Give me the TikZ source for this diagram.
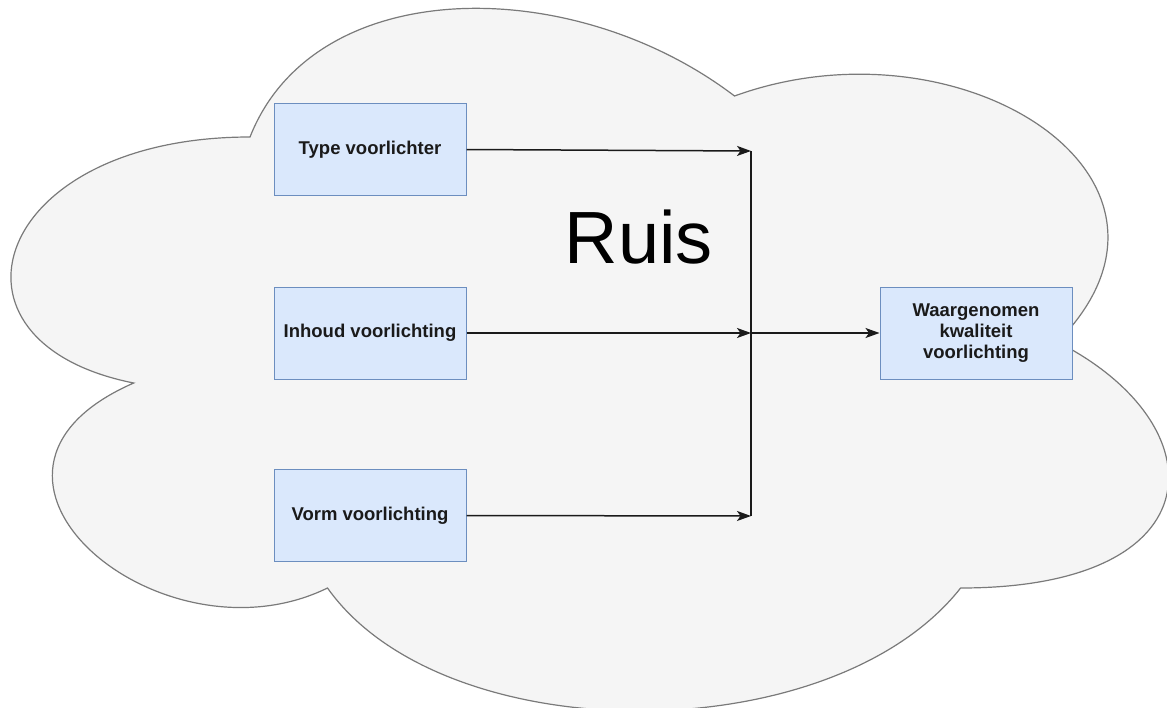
\documentclass[tikz,border=0pt]{standalone}
\usepackage{fontspec}
\setmainfont{Liberation Sans}
\usetikzlibrary{arrows.meta}

\definecolor{cloudfill}{HTML}{F5F5F5}
\definecolor{cloudline}{HTML}{7A7A7A}
\definecolor{boxfill}{HTML}{DAE8FC}
\definecolor{boxline}{HTML}{6C8EBF}
\definecolor{ink}{HTML}{1A1A1A}

\tikzset{
  factorbox/.style={draw=boxline, fill=boxfill, line width=1pt,
    minimum width=192pt, minimum height=92pt, inner sep=2pt,
    align=center, text=ink, font=\fontsize{18.5}{21}\selectfont\bfseries},
  flow/.style={draw=ink, line width=1.5pt,
    -{Stealth[length=14pt,width=10pt,inset=3.5pt]}},
  joinline/.style={draw=ink, line width=1.5pt},
  cloudshape/.style={draw=cloudline, fill=cloudfill, line width=1.2pt}
}

\begin{document}
\begin{tikzpicture}[x=1pt,y=-1pt]
  \useasboundingbox (0,0) rectangle (1167,707);
  \fill[white] (0,0) rectangle (1167,707);

  % noise cloud behind everything
  \begin{scope}
    \clip (0,0) rectangle (1167,707);
    \path[cloudshape] (250,137)
      .. controls (-8.4,137) and (-73,342) .. (133.7,383)
      .. controls (-73,473.2) and (159.6,670) .. (327.5,588)
      .. controls (443.8,752) and (831.4,752) .. (960.6,588)
      .. controls (1219,588) and (1219,424) .. (1057.5,342)
      .. controls (1219,178) and (960.6,14) .. (734.5,96)
      .. controls (573,-27) and (314.6,-27) .. (250,137)
      -- cycle;
  \end{scope}

  \node[font=\fontsize{74}{80}\selectfont, text=black] (ruis) at (639,237) {Ruis};

  % factor boxes
  \node[factorbox] (type)   at (370,149.5) {Type voorlichter};
  \node[factorbox] (inhoud) at (370,333)   {Inhoud voorlichting};
  \node[factorbox] (vorm)   at (370,515.5) {Vorm voorlichting};
  \node[factorbox] (kwal)   at (976,333)   {Waargenomen\\kwaliteit\\voorlichting};

  % junction bar
  \coordinate (jtop) at (751,151);
  \coordinate (jmid) at (751,333);
  \coordinate (jbot) at (751,516);

  \draw[joinline] (jtop) -- (jbot);
  \draw[flow] (type.east) -- (jtop);
  \draw[flow] (inhoud.east) -- (jmid);
  \draw[flow] (vorm.east) -- (jbot);
  \draw[flow] (jmid) -- (kwal.west);
\end{tikzpicture}
\end{document}
